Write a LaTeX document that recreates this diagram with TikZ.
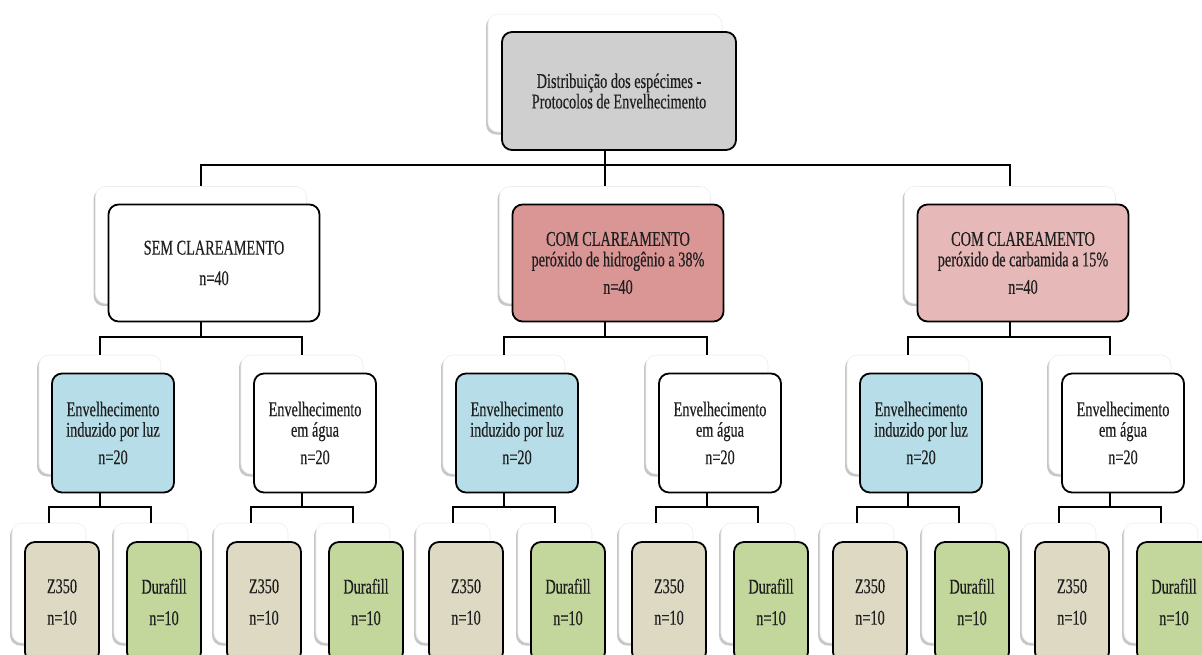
\documentclass[tikz,border=0pt]{standalone}
\usepackage{fontspec}
\setmainfont{Liberation Serif}[FakeStretch=0.68, FakeBold=0.35]
\usetikzlibrary{shadows}
\definecolor{grayfill}{HTML}{CFCFCF}
\definecolor{pinkdark}{HTML}{D99694}
\definecolor{pinklight}{HTML}{E6B9B8}
\definecolor{bluefill}{HTML}{B7DDE8}
\definecolor{tanfill}{HTML}{DDD9C3}
\definecolor{greenfill}{HTML}{C3D69B}
\tikzset{
  mainbox/.style={draw=black, line width=1.8pt, rounded corners=10pt, align=center,
    text=black!88, inner sep=0pt, font=\fontsize{21}{20.5}\selectfont},
  backbox/.style={draw=black!7, line width=0.6pt, fill=white, rounded corners=10pt, inner sep=0pt,
    drop shadow={shadow xshift=-2pt, shadow yshift=-2.5pt, fill=black, opacity=0.22}},
  lone/.style={minimum width=234pt, minimum height=118pt},
  ltwo/.style={minimum width=211pt, minimum height=117pt},
  lthree/.style={minimum width=122pt, minimum height=119pt},
  lfour/.style={minimum width=74pt, minimum height=120pt},
  link/.style={draw=black, line width=1.8pt}
}
\begin{document}
\begin{tikzpicture}[x=1pt, y=-1pt]
\useasboundingbox (0,0) rectangle (1202,654);
\clip (0,0) rectangle (1202,654);

% level 1
\node[backbox, lone] (bA) at (605,73) {};
\node[mainbox, lone, fill=grayfill] (mA) at (619,91) {Distribuição dos espécimes -\\Protocolos de Envelhecimento};

% level 2
\node[backbox, ltwo] (bB1) at (201,245) {};
\node[backbox, ltwo] (bB2) at (605,245) {};
\node[backbox, ltwo] (bB3) at (1010,245) {};
\node[mainbox, ltwo, fill=white] (mB1) at (214,263) {SEM CLAREAMENTO\\[10pt]n=40};
\node[mainbox, ltwo, fill=pinkdark] (mB2) at (618,263) {COM CLAREAMENTO\\peróxido de hidrogênio a 38\%\\[7pt]n=40};
\node[mainbox, ltwo, fill=pinklight] (mB3) at (1023,263) {COM CLAREAMENTO\\peróxido de carbamida a 15\%\\[7pt]n=40};

% level 3
\foreach \i/\x/\f/\t in {1/100/bluefill/{Envelhecimento\\induzido por luz},
                         2/302/white/{Envelhecimento\\em água},
                         3/504/bluefill/{Envelhecimento\\induzido por luz},
                         4/707/white/{Envelhecimento\\em água},
                         5/908/bluefill/{Envelhecimento\\induzido por luz},
                         6/1110/white/{Envelhecimento\\em água}}{
  \node[backbox, lthree] (bC\i) at (\x,414.5) {};
  \node[mainbox, lthree, fill=\f] (mC\i) at (\x+13,433) {\t\\[7pt]n=20};
}

% level 4
\foreach \i/\x/\f/\t in {1/49/tanfill/Z350, 2/151/greenfill/Durafill,
                         3/251/tanfill/Z350, 4/353/greenfill/Durafill,
                         5/453/tanfill/Z350, 6/555/greenfill/Durafill,
                         7/656/tanfill/Z350, 8/758/greenfill/Durafill,
                         9/857/tanfill/Z350, 10/959/greenfill/Durafill,
                         11/1059/tanfill/Z350, 12/1161/greenfill/Durafill}{
  \node[backbox, lfour] (bD\i) at (\x,583) {};
  \node[mainbox, lfour, fill=\f] (mD\i) at (\x+13,602) {\t\\[11pt]n=10};
}

% connectors level 1 -> 2
\coordinate (jA) at (605,165);
\draw[link] (bA |- mA.south) -- (bB2.north);
\draw[link] (bB1.north) -- (bB1.north |- jA) -- (bB3.north |- jA) -- (bB3.north);

% connectors level 2 -> 3
\foreach \k/\x/\a/\b in {1/201/1/2, 2/605/3/4, 3/1010/5/6}{
  \coordinate (jB\k) at (\x,337);
  \draw[link] (bB\k |- mB\k.south) -- (jB\k);
  \draw[link] (bC\a.north) -- (bC\a.north |- jB\k) -- (bC\b.north |- jB\k) -- (bC\b.north);
}

% connectors level 3 -> 4
\foreach \k/\x/\a/\b in {1/100/1/2, 2/302/3/4, 3/504/5/6, 4/707/7/8, 5/908/9/10, 6/1110/11/12}{
  \coordinate (jC\k) at (\x,507);
  \draw[link] (bC\k |- mC\k.south) -- (jC\k);
  \draw[link] (bD\a.north) -- (bD\a.north |- jC\k) -- (bD\b.north |- jC\k) -- (bD\b.north);
}
\end{tikzpicture}
\end{document}
